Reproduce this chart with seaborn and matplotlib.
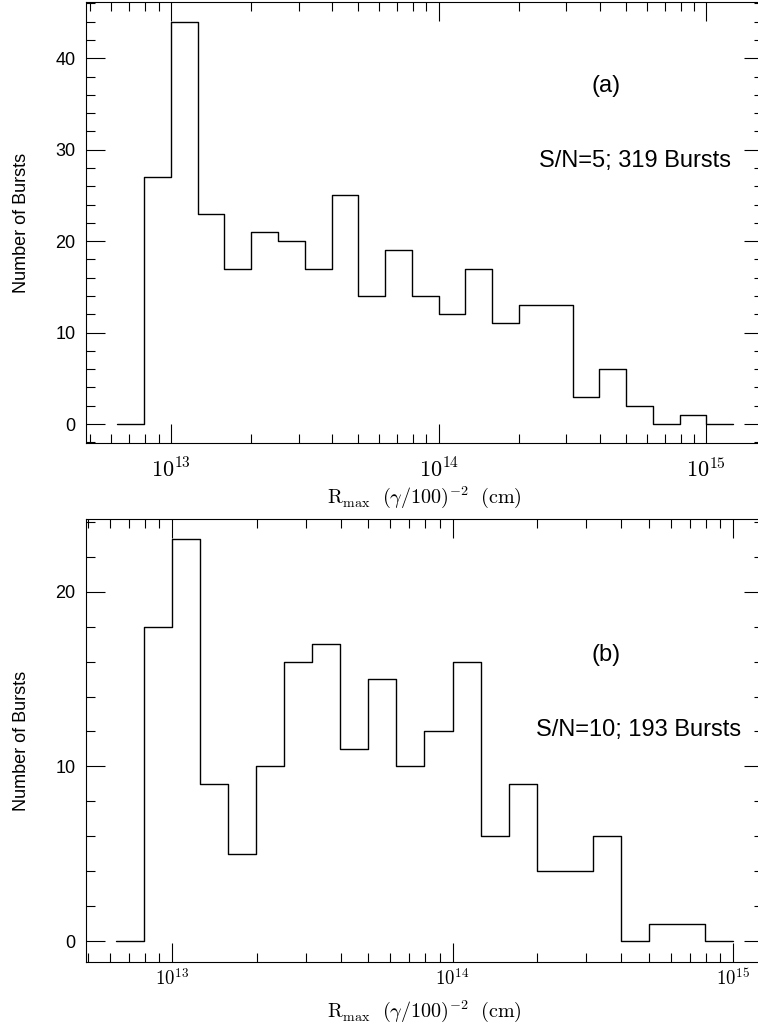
import numpy as np
import matplotlib
matplotlib.use("Agg")
import matplotlib.pyplot as plt
import matplotlib.ticker as mticker
import seaborn as sns
import pandas as pd

# ---- data ----
# log10 bin range (0.1 dex bins) and counts per bin
range_a = (12.8, 15.1)
counts_a = [0, 27, 44, 23, 17, 21, 20, 17, 25, 14, 19, 14, 12, 17, 11, 13, 13, 3, 6, 2, 0, 1, 0]
range_b = (12.8, 15.0)
counts_b = [0, 18, 23, 9, 5, 10, 16, 17, 11, 15, 10, 12, 16, 6, 9, 4, 4, 6, 0, 1, 1, 0]
panel_tags = ["(a)", "(b)"]
panel_notes = ["S/N=5; 319 Bursts", "S/N=10; 193 Bursts"]
yticks_a = [0, 10, 20, 30, 40]
yticks_b = [0, 10, 20]
xlim_a = (10**12.682, 10**15.211)
xlim_b = (10**12.692, 10**15.107)
ylim_a = (-2.11, 46.19)
ylim_b = (-1.18, 24.15)
ylabel = "Number of Bursts"
xlabel = r"$\mathrm{R_{max}}\ \ (\gamma/100)^{-2}\ \ (\mathrm{cm})$"

sns.set_style("ticks")
plt.rcParams["font.family"] = ["Liberation Sans", "DejaVu Sans"]
plt.rcParams["mathtext.fontset"] = "cm"
plt.rcParams["text.color"] = "black"
plt.rcParams["axes.labelcolor"] = "black"
plt.rcParams["xtick.color"] = "black"
plt.rcParams["ytick.color"] = "black"
plt.rcParams["xtick.labelcolor"] = "black"
plt.rcParams["ytick.labelcolor"] = "black"

fig = plt.figure(figsize=(7.58, 10.28), dpi=100)
W, H = 758.0, 1028.0


def make_df(rng, counts):
    n = len(counts)
    centers = 10 ** (rng[0] + (rng[1] - rng[0]) * (np.arange(n) + 0.5) / n)
    return pd.DataFrame({"r": centers, "n": counts})


def panel(rect, rng, counts, xlim, ylim, yticks, tag, note, tag_pos, note_pos,
          xtick_size, xtick_pad, xlab_y):
    ax = fig.add_axes(rect)
    df = make_df(rng, counts)
    sns.histplot(data=df, x="r", weights="n", bins=len(counts), binrange=rng,
                 log_scale=True, element="step", fill=False, color="black",
                 linewidth=1.0, ax=ax)
    ax.set_xscale("log")
    ax.set_xlim(*xlim)
    ax.set_ylim(*ylim)
    ax.set_yticks(yticks)
    ax.yaxis.set_minor_locator(mticker.MultipleLocator(2))
    ax.xaxis.set_major_locator(mticker.LogLocator(base=10, numticks=10))
    ax.xaxis.set_minor_locator(mticker.LogLocator(base=10, subs=np.arange(2, 10), numticks=30))
    ax.xaxis.set_major_formatter(mticker.FuncFormatter(
        lambda v, p: r"$10^{%d}$" % int(round(np.log10(v)))))
    ax.xaxis.set_minor_formatter(mticker.NullFormatter())
    for s in ax.spines.values():
        s.set_visible(True)
        s.set_linewidth(0.8)
        s.set_color("black")
    ax.tick_params(axis="both", which="both", direction="in", top=True, right=True,
                   color="black", width=0.8)
    ax.tick_params(axis="both", which="major", length=13.5)
    ax.tick_params(axis="both", which="minor", length=6.7)
    ax.tick_params(axis="y", which="major", labelsize=13, pad=7.5)
    ax.tick_params(axis="x", which="major", labelsize=xtick_size, pad=xtick_pad)
    ax.set_ylabel(ylabel, fontsize=13, labelpad=18)
    ax.set_xlabel(xlabel, fontsize=14.5, va="top")
    ax.xaxis.set_label_coords(0.5, xlab_y)
    ax.text(tag_pos[0], tag_pos[1], tag, transform=ax.transAxes, ha="center",
            va="center", fontsize=17)
    ax.text(note_pos[0], note_pos[1], note, transform=ax.transAxes, ha="center",
            va="center", fontsize=17)
    return ax


left = 85.7 / W
width = 677.3 / W
ax_a = panel([left, 1 - 443.3 / H, width, 441.6 / H], range_a, counts_a, xlim_a, ylim_a,
             yticks_a, panel_tags[0], panel_notes[0], (0.768, 0.809), (0.811, 0.640),
             16, 11.0, -0.093)
ax_b = panel([left, 1 - 962.0 / H, width, 443.0 / H], range_b, counts_b, xlim_b, ylim_b,
             yticks_b, panel_tags[1], panel_notes[1], (0.769, 0.693), (0.816, 0.523),
             13.5, 4.5, -0.082)

fig.savefig("out.png", dpi=100)
